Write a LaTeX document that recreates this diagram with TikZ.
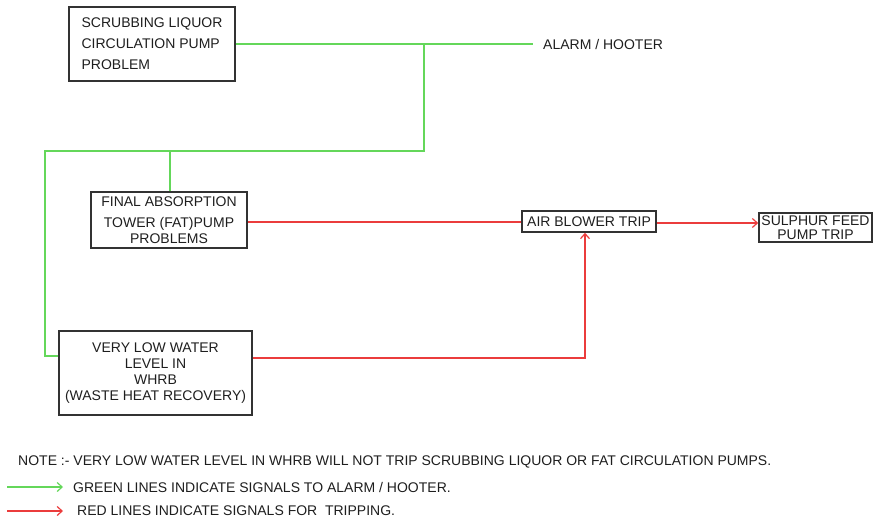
\documentclass[tikz,border=0pt]{standalone}
\usepackage{fontspec}
\setmainfont{Liberation Sans}
\usetikzlibrary{arrows.meta}
\definecolor{sigGreen}{RGB}{100,215,90}
\definecolor{sigRed}{RGB}{235,60,60}
\definecolor{boxGray}{RGB}{50,50,50}
\definecolor{txtGray}{RGB}{30,30,30}
\begin{document}
\begin{tikzpicture}[x=1pt,y=-1pt,
  box/.style={draw=boxGray,line width=1.6pt,inner sep=0pt,text=txtGray,font=\fontsize{14}{16}\selectfont},
  lbl/.style={inner sep=0pt,text=txtGray,font=\fontsize{14}{16}\selectfont},
  greenline/.style={sigGreen,line width=1.6pt},
  redline/.style={sigRed,line width=1.4pt},
  tip/.style={-{Straight Barb[length=5pt,width=9pt,line width=1.2pt]}}]
\useasboundingbox (0,0) rectangle (875,521);

% cause and action boxes
\node[box,minimum width=166pt,minimum height=74pt,align=left] (scrub) at (152,44)
  {SCRUBBING LIQUOR\\[5pt]CIRCULATION PUMP\\[5pt]PROBLEM};
\node[box,minimum width=156pt,minimum height=56pt,align=center] (fat) at (169,220)
  {FINAL ABSORPTION\\[5pt]TOWER (FAT)PUMP\\PROBLEMS};
\node[box,minimum width=193pt,minimum height=84pt,align=center] (whrb) at (155.5,373)
  {VERY LOW WATER\\LEVEL IN\\WHRB\\(WASTE HEAT RECOVERY)};
\node[box,minimum width=134pt,minimum height=21pt] (air) at (589,221.5) {AIR BLOWER TRIP};
\node[box,minimum width=113pt,minimum height=29pt,align=center,
  font=\fontsize{14}{13.5}\selectfont] (sulphur) at (815.5,227.5)
  {SULPHUR FEED\\PUMP TRIP};
\node[lbl,anchor=west] (alarm) at (543,44) {ALARM / HOOTER};

% alarm / hooter signal network
\coordinate (alarmEnd) at (533,44);
\coordinate (j1) at (424,44);
\coordinate (j2) at (424,151);
\coordinate (j3) at (170,151);
\coordinate (j4) at (45,151);
\coordinate (j5) at (45,356);
\draw[greenline] (scrub.east) -- (alarmEnd);
\draw[greenline] (j1) -- (j2) -- (j4) -- (j5) -- (whrb.west |- j5);
\draw[greenline] (j3) -- (fat.north -| j3);

% tripping signals
\coordinate (r1) at (585,358);
\draw[redline] (fat.east |- 0,222) -- (air.west |- 0,222);
\draw[redline,tip] (air.east |- 0,223) -- (sulphur.west |- 0,223);
\draw[redline,tip] (whrb.east |- r1) -- (r1) -- (air.south -| r1);

% note and legend
\node[lbl,anchor=west] (note) at (18,462)
  {NOTE :- VERY LOW WATER LEVEL IN WHRB WILL NOT TRIP SCRUBBING LIQUOR OR FAT CIRCULATION PUMPS.};
\node[lbl,anchor=west] (legG) at (73,487) {GREEN LINES INDICATE SIGNALS TO ALARM / HOOTER.};
\node[lbl,anchor=west] (legR) at (77,511) {RED LINES INDICATE SIGNALS FOR\ \ TRIPPING.};
\coordinate (gs) at (7,487);
\coordinate (rs) at (7,511);
\draw[greenline,tip] (gs) -- ([xshift=-10pt]legG.west);
\draw[redline,tip] (rs) -- ([xshift=-14pt]legR.west);
\end{tikzpicture}
\end{document}
